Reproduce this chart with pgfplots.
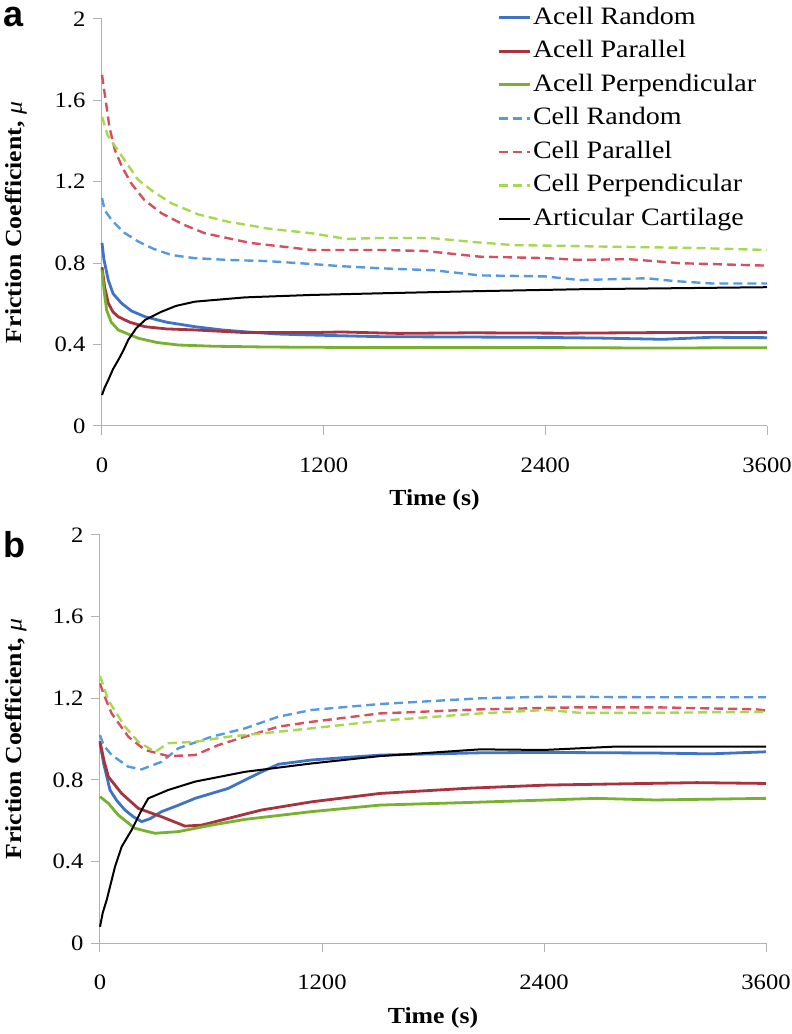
\documentclass[border=0pt]{standalone}
\usepackage{fontspec}
\setmainfont{Liberation Serif}[FakeStretch=1.12]
\newfontfamily\lsans{Liberation Sans}
\usepackage{pgfplots}
\pgfplotsset{compat=1.18}
\definecolor{cA}{HTML}{3F73C5}
\definecolor{cB}{HTML}{A8323E}
\definecolor{cC}{HTML}{78B030}
\definecolor{dA}{HTML}{5599E0}
\definecolor{dB}{HTML}{D4505E}
\definecolor{dC}{HTML}{A8D850}
\pgfplotsset{
 fr/.style={
  scale only axis,
  xmin=0,xmax=3600,ymin=0,ymax=2,
  axis lines*=left,
  axis line style={draw=black!30, line width=1pt},
  xtick={0,1200,2400,3600}, xticklabels={0,1200,2400,3600},
  ytick={0,0.4,0.8,1.2,1.6,2}, yticklabels={0,0.4,0.8,1.2,1.6,2},
  tick align=outside, major tick length=9pt,
  tick style={draw=black!30, line width=1pt},
  ticklabel style={font=\fontsize{22}{26}\selectfont},
  xticklabel style={yshift=-19pt},
  yticklabel style={xshift=-4pt},
  /pgf/number format/assume math mode=true,
  xlabel={\textbf{Time (s)}},
  ylabel={\textbf{Friction Coefficient,} \textit{μ}},
  clip=false,
 },
 sa/.style={line width=2.8pt},
 sd/.style={line width=2.4pt, dash pattern=on 9pt off 5pt},
}
\begin{document}
\begin{tikzpicture}
\path[use as bounding box] (0,0) rectangle (792pt,1034pt);
% ---------------- panel a
\begin{axis}[fr, at={(102pt,608pt)}, anchor=south west, width=665pt, height=407pt,
  every axis x label/.style={at={(axis description cs:0.5,-0.182)},anchor=center,font=\fontsize{23}{27}\selectfont},
  every axis y label/.style={at={(axis description cs:-0.129,0.5)},rotate=90,anchor=center,font=\fontsize{23}{27}\selectfont},
  legend style={draw=none, fill=none, at={(axis description cs:0.594,1.037)}, anchor=north west,
    font=\fontsize{25}{29}\selectfont, row sep=6pt, inner sep=0pt, cells={anchor=west},
    nodes={inner sep=2pt, text height=18pt, text depth=5.5pt}},
  legend image code/.code={\draw[#1] (0pt,0pt) -- (31pt,0pt);},
]
\addplot[sa, cA] coordinates {(0,0.90) (10,0.82) (34,0.717) (60,0.65) (106,0.603) (160,0.565) (233,0.537) (350,0.51) (503,0.488) (650,0.472) (774,0.463) (950,0.452) (1135,0.447) (1500,0.439) (2000,0.437) (2317,0.436) (2700,0.432) (3037,0.426) (3300,0.436) (3600,0.434)};
\addlegendentry{Acell Random}
\addplot[sa, cB] coordinates {(0,0.78) (15,0.68) (34,0.603) (60,0.56) (88,0.537) (150,0.51) (233,0.488) (350,0.477) (503,0.472) (774,0.459) (1135,0.459) (1300,0.462) (1600,0.455) (2000,0.458) (2500,0.456) (3000,0.459) (3600,0.46)};
\addlegendentry{Acell Parallel}
\addplot[sa, cC] coordinates {(0,0.767) (12,0.66) (25,0.57) (50,0.51) (88,0.472) (197,0.431) (300,0.41) (413,0.398) (600,0.392) (900,0.388) (1500,0.385) (2500,0.385) (3000,0.383) (3600,0.385)};
\addlegendentry{Acell Perpendicular}
\addplot[sd, dA] coordinates {(0,1.12) (15,1.06) (52,1.012) (120,0.95) (197,0.906) (280,0.87) (377,0.84) (500,0.825) (682,0.816) (900,0.81) (1135,0.796) (1300,0.785) (1505,0.775) (1800,0.765) (2046,0.74) (2400,0.735) (2587,0.717) (2948,0.726) (3100,0.712) (3307,0.70) (3600,0.70)};
\addlegendentry{Cell Random}
\addplot[sd, dB] coordinates {(0,1.725) (20,1.6) (40,1.47) (70,1.356) (110,1.27) (160,1.19) (230,1.11) (323,1.045) (440,0.99) (557,0.947) (800,0.9) (1135,0.865) (1505,0.865) (1750,0.86) (2046,0.832) (2400,0.825) (2587,0.816) (2850,0.82) (3128,0.80) (3600,0.788)};
\addlegendentry{Cell Parallel}
\addplot[sd, dC] coordinates {(0,1.52) (30,1.43) (85,1.356) (195,1.21) (280,1.15) (377,1.094) (520,1.04) (682,1.004) (900,0.97) (1135,0.947) (1325,0.919) (1500,0.924) (1776,0.924) (2000,0.905) (2225,0.889) (2766,0.881) (3200,0.875) (3600,0.865)};
\addlegendentry{Cell Perpendicular}
\addplot[line width=2pt, black] coordinates {(0,0.152) (15,0.19) (34,0.226) (60,0.28) (88,0.324) (115,0.37) (142,0.423) (185,0.48) (233,0.521) (323,0.562) (400,0.59) (503,0.611) (774,0.632) (1135,0.644) (1505,0.652) (2000,0.662) (2587,0.672) (3600,0.682)};
\addlegendentry{Articular Cartilage}
\end{axis}
% ---------------- panel b
\begin{axis}[fr, at={(100pt,90.7pt)}, anchor=south west, width=666pt, height=408.3pt,
  every axis x label/.style={at={(axis description cs:0.5,-0.183)},anchor=center,font=\fontsize{23}{27}\selectfont},
  every axis y label/.style={at={(axis description cs:-0.126,0.5)},rotate=90,anchor=center,font=\fontsize{23}{27}\selectfont},
]
\addplot[sa, cA] coordinates {(0,0.98) (20,0.88) (54,0.751) (90,0.70) (135,0.653) (180,0.62) (225,0.596) (270,0.61) (333,0.645) (420,0.675) (514,0.71) (694,0.759) (784,0.80) (874,0.84) (964,0.877) (1144,0.898) (1513,0.922) (2054,0.933) (2400,0.935) (3000,0.932) (3300,0.928) (3600,0.938)};
\addplot[sa, cB] coordinates {(0,0.99) (20,0.90) (45,0.816) (117,0.734) (207,0.661) (333,0.62) (459,0.574) (550,0.579) (694,0.612) (874,0.653) (1144,0.693) (1513,0.734) (2000,0.76) (2414,0.775) (3225,0.787) (3600,0.783)};
\addplot[sa, cC] coordinates {(0,0.718) (45,0.686) (99,0.628) (189,0.563) (297,0.539) (423,0.547) (604,0.579) (784,0.607) (1144,0.645) (1513,0.677) (2000,0.69) (2414,0.702) (2685,0.71) (3000,0.702) (3600,0.71)};
\addplot[sd, dA] coordinates {(0,1.02) (20,0.97) (63,0.922) (153,0.865) (225,0.852) (333,0.889) (423,0.955) (604,1.012) (784,1.053) (964,1.11) (1144,1.143) (1513,1.172) (2054,1.20) (2414,1.208) (3000,1.205) (3600,1.205)};
\addplot[sd, dB] coordinates {(0,1.273) (20,1.22) (63,1.126) (153,1.012) (243,0.947) (369,0.917) (514,0.922) (640,0.971) (784,1.012) (964,1.061) (1144,1.085) (1513,1.126) (2054,1.146) (2594,1.156) (3000,1.156) (3549,1.146) (3600,1.14)};
\addplot[sd, dC] coordinates {(0,1.31) (45,1.19) (135,1.061) (207,0.987) (297,0.938) (369,0.98) (514,0.987) (694,1.012) (874,1.028) (1144,1.053) (1513,1.09) (2054,1.126) (2414,1.143) (2594,1.129) (3000,1.129) (3600,1.134)};
\addplot[line width=2pt, black] coordinates {(0,0.081) (15,0.15) (36,0.212) (81,0.375) (117,0.473) (171,0.555) (225,0.653) (261,0.71) (369,0.751) (514,0.792) (784,0.84) (1144,0.881) (1513,0.917) (2054,0.95) (2400,0.947) (2774,0.963) (3600,0.963)};
\end{axis}
\node[anchor=base west, inner sep=0pt] at (3pt,1007pt) {\lsans\bfseries\fontsize{36}{36}\selectfont a};
\node[anchor=base west, inner sep=0pt] at (3pt,476pt) {\lsans\bfseries\fontsize{36}{36}\selectfont b};
\end{tikzpicture}
\end{document}
